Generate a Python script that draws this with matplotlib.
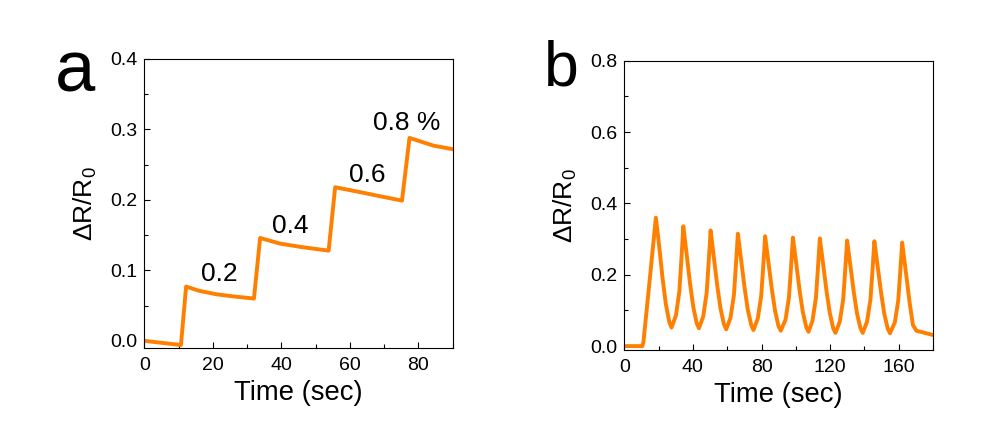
import matplotlib
matplotlib.use("Agg")
import matplotlib.pyplot as plt
from matplotlib.ticker import MultipleLocator, FormatStrFormatter

plt.rcParams['font.family'] = ['Liberation Sans', 'DejaVu Sans']
plt.rcParams['mathtext.fontset'] = 'custom'
plt.rcParams['mathtext.rm'] = 'Liberation Sans'
plt.rcParams['mathtext.it'] = 'Liberation Sans'

# panel a: step response, concentration labels
time_a = [0, 10.7, 12.2, 16.0, 21.1, 26.0, 32.0,
          33.8, 39.6, 46.0, 53.8,
          55.7, 63.0, 69.0, 75.2,
          77.4, 84.4, 90.0]
resp_a = [0.000, -0.006, 0.077, 0.071, 0.066, 0.063, 0.060,
          0.146, 0.138, 0.133, 0.128,
          0.218, 0.211, 0.205, 0.199,
          0.288, 0.277, 0.272]
conc_labels = ['0.2', '0.4', '0.6', '0.8 %']
conc_x = [16.5, 37.2, 59.8, 66.6]
conc_y = [0.085, 0.153, 0.225, 0.299]

# panel b: repeated cycles
time_b = [0, 10.5, 11.1, 13.0, 15.0, 16.9,
          18.4, 20.3, 22.3, 24.2, 26.2, 27.5, 30.1, 32.1, 33.0, 34.0,
          34.4, 36.3, 38.3, 40.2, 42.2, 43.5, 46.0, 48.0, 48.9, 49.9,
          50.3, 52.2, 54.2, 56.1, 58.1, 59.4, 61.9, 63.9, 64.8, 65.8,
          66.2, 68.1, 70.1, 72.0, 74.0, 75.3, 77.8, 79.8, 80.7, 81.7,
          82.1, 84.0, 86.0, 87.9, 89.9, 91.2, 94.0, 96.0, 96.9, 97.9,
          98.3, 100.2, 102.2, 104.1, 106.1, 107.4, 109.7, 111.7, 112.6, 113.6,
          114.0, 115.9, 117.9, 119.8, 121.8, 123.1, 125.6, 127.6, 128.5, 129.5,
          129.9, 131.8, 133.8, 135.7, 137.7, 139.0, 141.5, 143.5, 144.4, 145.4,
          145.8, 147.7, 149.7, 151.6, 153.6, 154.9, 157.7, 159.7, 160.6, 161.6,
          162.0, 164.5, 166.4, 168.3, 170.3, 176.1, 180.0]
resp_b = [0.0, 0.0, 0.010, 0.100, 0.195, 0.288,
          0.360, 0.281, 0.190, 0.118, 0.068, 0.052, 0.086, 0.154, 0.222, 0.302,
          0.336, 0.259, 0.176, 0.110, 0.064, 0.050, 0.083, 0.149, 0.214, 0.291,
          0.324, 0.249, 0.169, 0.105, 0.061, 0.047, 0.079, 0.143, 0.208, 0.283,
          0.315, 0.242, 0.164, 0.102, 0.059, 0.045, 0.077, 0.140, 0.203, 0.276,
          0.308, 0.236, 0.160, 0.099, 0.056, 0.043, 0.074, 0.137, 0.200, 0.273,
          0.304, 0.233, 0.156, 0.095, 0.053, 0.040, 0.071, 0.134, 0.197, 0.271,
          0.302, 0.230, 0.154, 0.093, 0.050, 0.037, 0.068, 0.130, 0.192, 0.265,
          0.296, 0.226, 0.151, 0.091, 0.050, 0.037, 0.068, 0.130, 0.191, 0.263,
          0.294, 0.224, 0.150, 0.090, 0.049, 0.036, 0.066, 0.127, 0.188, 0.260,
          0.290, 0.195, 0.120, 0.059, 0.043, 0.036, 0.031]

orange = '#ff7f00'
ylab = r'$\Delta$R/R$_0$'

fig = plt.figure(figsize=(9.91, 4.29), dpi=100)
axa = fig.add_axes([0.1456, 0.1888, 0.3112, 0.6737])
axb = fig.add_axes([0.6300, 0.1841, 0.3115, 0.6744])


def style(ax, xmaj, xmin, ymaj, ymin):
    ax.xaxis.set_major_locator(MultipleLocator(xmaj))
    ax.xaxis.set_minor_locator(MultipleLocator(xmin))
    ax.yaxis.set_major_locator(MultipleLocator(ymaj))
    ax.yaxis.set_minor_locator(MultipleLocator(ymin))
    ax.yaxis.set_major_formatter(FormatStrFormatter('%.1f'))
    ax.tick_params(which='both', direction='in', top=False, right=False, width=0.8)
    ax.tick_params(which='major', length=4.5, labelsize=14)
    ax.tick_params(axis='x', which='major', pad=6.5)
    ax.tick_params(axis='y', which='major', pad=5)
    ax.tick_params(which='minor', length=3)
    for s in ax.spines.values():
        s.set_linewidth(0.8)
    ax.set_xlabel('Time (sec)', fontsize=19.8, labelpad=4)
    ax.set_ylabel(ylab, fontsize=19, labelpad=8)


axa.plot(time_a, resp_a, color=orange, lw=2.8)
axa.set_xlim(0, 90)
axa.set_ylim(-0.0102, 0.4)
style(axa, 20, 10, 0.1, 0.05)
for lab, x, y in zip(conc_labels, conc_x, conc_y):
    axa.text(x, y, lab, fontsize=19, ha='left', va='baseline')

axb.plot(time_b, resp_b, color=orange, lw=2.8)
axb.set_xlim(0, 180)
axb.set_ylim(-0.011, 0.8)
style(axb, 40, 20, 0.2, 0.1)

fig.text(55 / 991, 1 - 92 / 429, 'a', fontsize=52, ha='left', va='baseline')
fig.text(544 / 991, 1 - 85 / 429, 'b', fontsize=45, ha='left', va='baseline')

fig.savefig('out.png', dpi=100)
